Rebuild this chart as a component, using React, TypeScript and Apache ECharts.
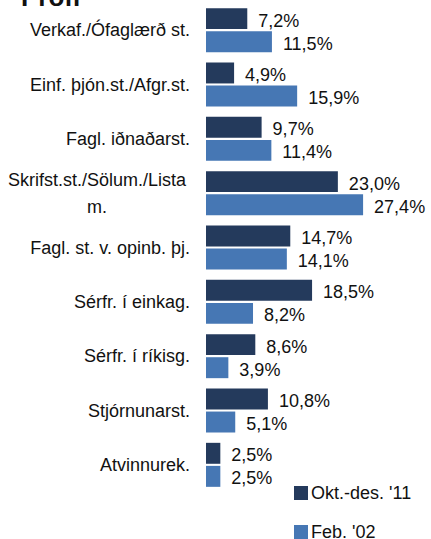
import React, { useEffect, useRef } from "react";
import * as echarts from "echarts";

const categories = [
  "Verkaf./Ófaglærð st.",
  "Einf. þjón.st./Afgr.st.",
  "Fagl. iðnaðarst.",
  "Skrifst.st./Sölum./Listam.",
  "Fagl. st. v. opinb. þj.",
  "Sérfr. í einkag.",
  "Sérfr. í ríkisg.",
  "Stjórnunarst.",
  "Atvinnurek.",
];
const seriesNames = ["Okt.-des. '11", "Feb. '02"];
const okt2011 = [7.2, 4.9, 9.7, 23.0, 14.7, 18.5, 8.6, 10.8, 2.5];
const feb2002 = [11.5, 15.9, 11.4, 27.4, 14.1, 8.2, 3.9, 5.1, 2.5];
const titleText = "Prófi";

const FONT = "'Liberation Sans', Arial, sans-serif";

export default function App() {
  const ref = useRef<HTMLDivElement>(null);
  useEffect(() => {
    if (!ref.current) return;
    const chart = echarts.init(ref.current, undefined, { renderer: "svg" });
    const fmt = (p: any) => Number(p.value).toFixed(1).replace(".", ",") + "%";
    const legendBase = {
      orient: "vertical",
      left: 294,
      padding: 0,
      itemWidth: 14,
      itemHeight: 14,
      icon: "rect",
      textStyle: { fontSize: 18, lineHeight: 14, color: "#111", fontFamily: FONT, padding: [0, 0, 0, -2] },
    };
    chart.setOption({
      animation: false,
      textStyle: { fontFamily: FONT },
      grid: { left: 206, top: 3, width: 172, height: 489, containLabel: false },
      xAxis: {
        type: "value",
        min: 0,
        max: 30,
        show: false,
      },
      yAxis: {
        type: "category",
        data: categories,
        inverse: true,
        axisLine: { show: false },
        axisTick: { show: false },
        axisLabel: {
          color: "#111",
          fontSize: 18,
          margin: 16,
          fontFamily: FONT,
          formatter: (v: string) =>
            v === "Skrifst.st./Sölum./Listam."
              ? "{c|Skrifst.st./Sölum./Lista}\n{c|m.}"
              : v,
          rich: {
            c: { width: 186, align: "center", fontSize: 18, color: "#111", fontFamily: FONT, lineHeight: 27 },
          },
        },
      },
      legend: [
        { ...legendBase, top: 484, data: [seriesNames[0]] },
        { ...legendBase, top: 523, data: [seriesNames[1]] },
      ],
      graphic: [
        {
          type: "text",
          x: 21,
          y: 10,
          style: {
            text: titleText,
            font: "bold 26px 'Liberation Sans', Arial, sans-serif",
            fill: "#111",
            verticalAlign: "bottom",
          },
        },
      ],
      series: [
        {
          name: seriesNames[0],
          type: "bar",
          data: okt2011,
          barGap: "10%",
          barCategoryGap: "19%",
          itemStyle: { color: "#243a5c" },
          label: { show: true, position: "right", distance: 11, fontSize: 18, color: "#111", formatter: fmt, offset: [0, 2] },
        },
        {
          name: seriesNames[1],
          type: "bar",
          data: feb2002,
          barGap: "10%",
          barCategoryGap: "19%",
          itemStyle: { color: "#4677b4" },
          label: { show: true, position: "right", distance: 11, fontSize: 18, color: "#111", formatter: fmt, offset: [0, 2] },
        },
      ],
    });
    return () => chart.dispose();
  }, []);
  return (
    <div
      ref={ref}
      style={{ position: "absolute", left: 0, top: 0, width: 431, height: 539 }}
    />
  );
}
